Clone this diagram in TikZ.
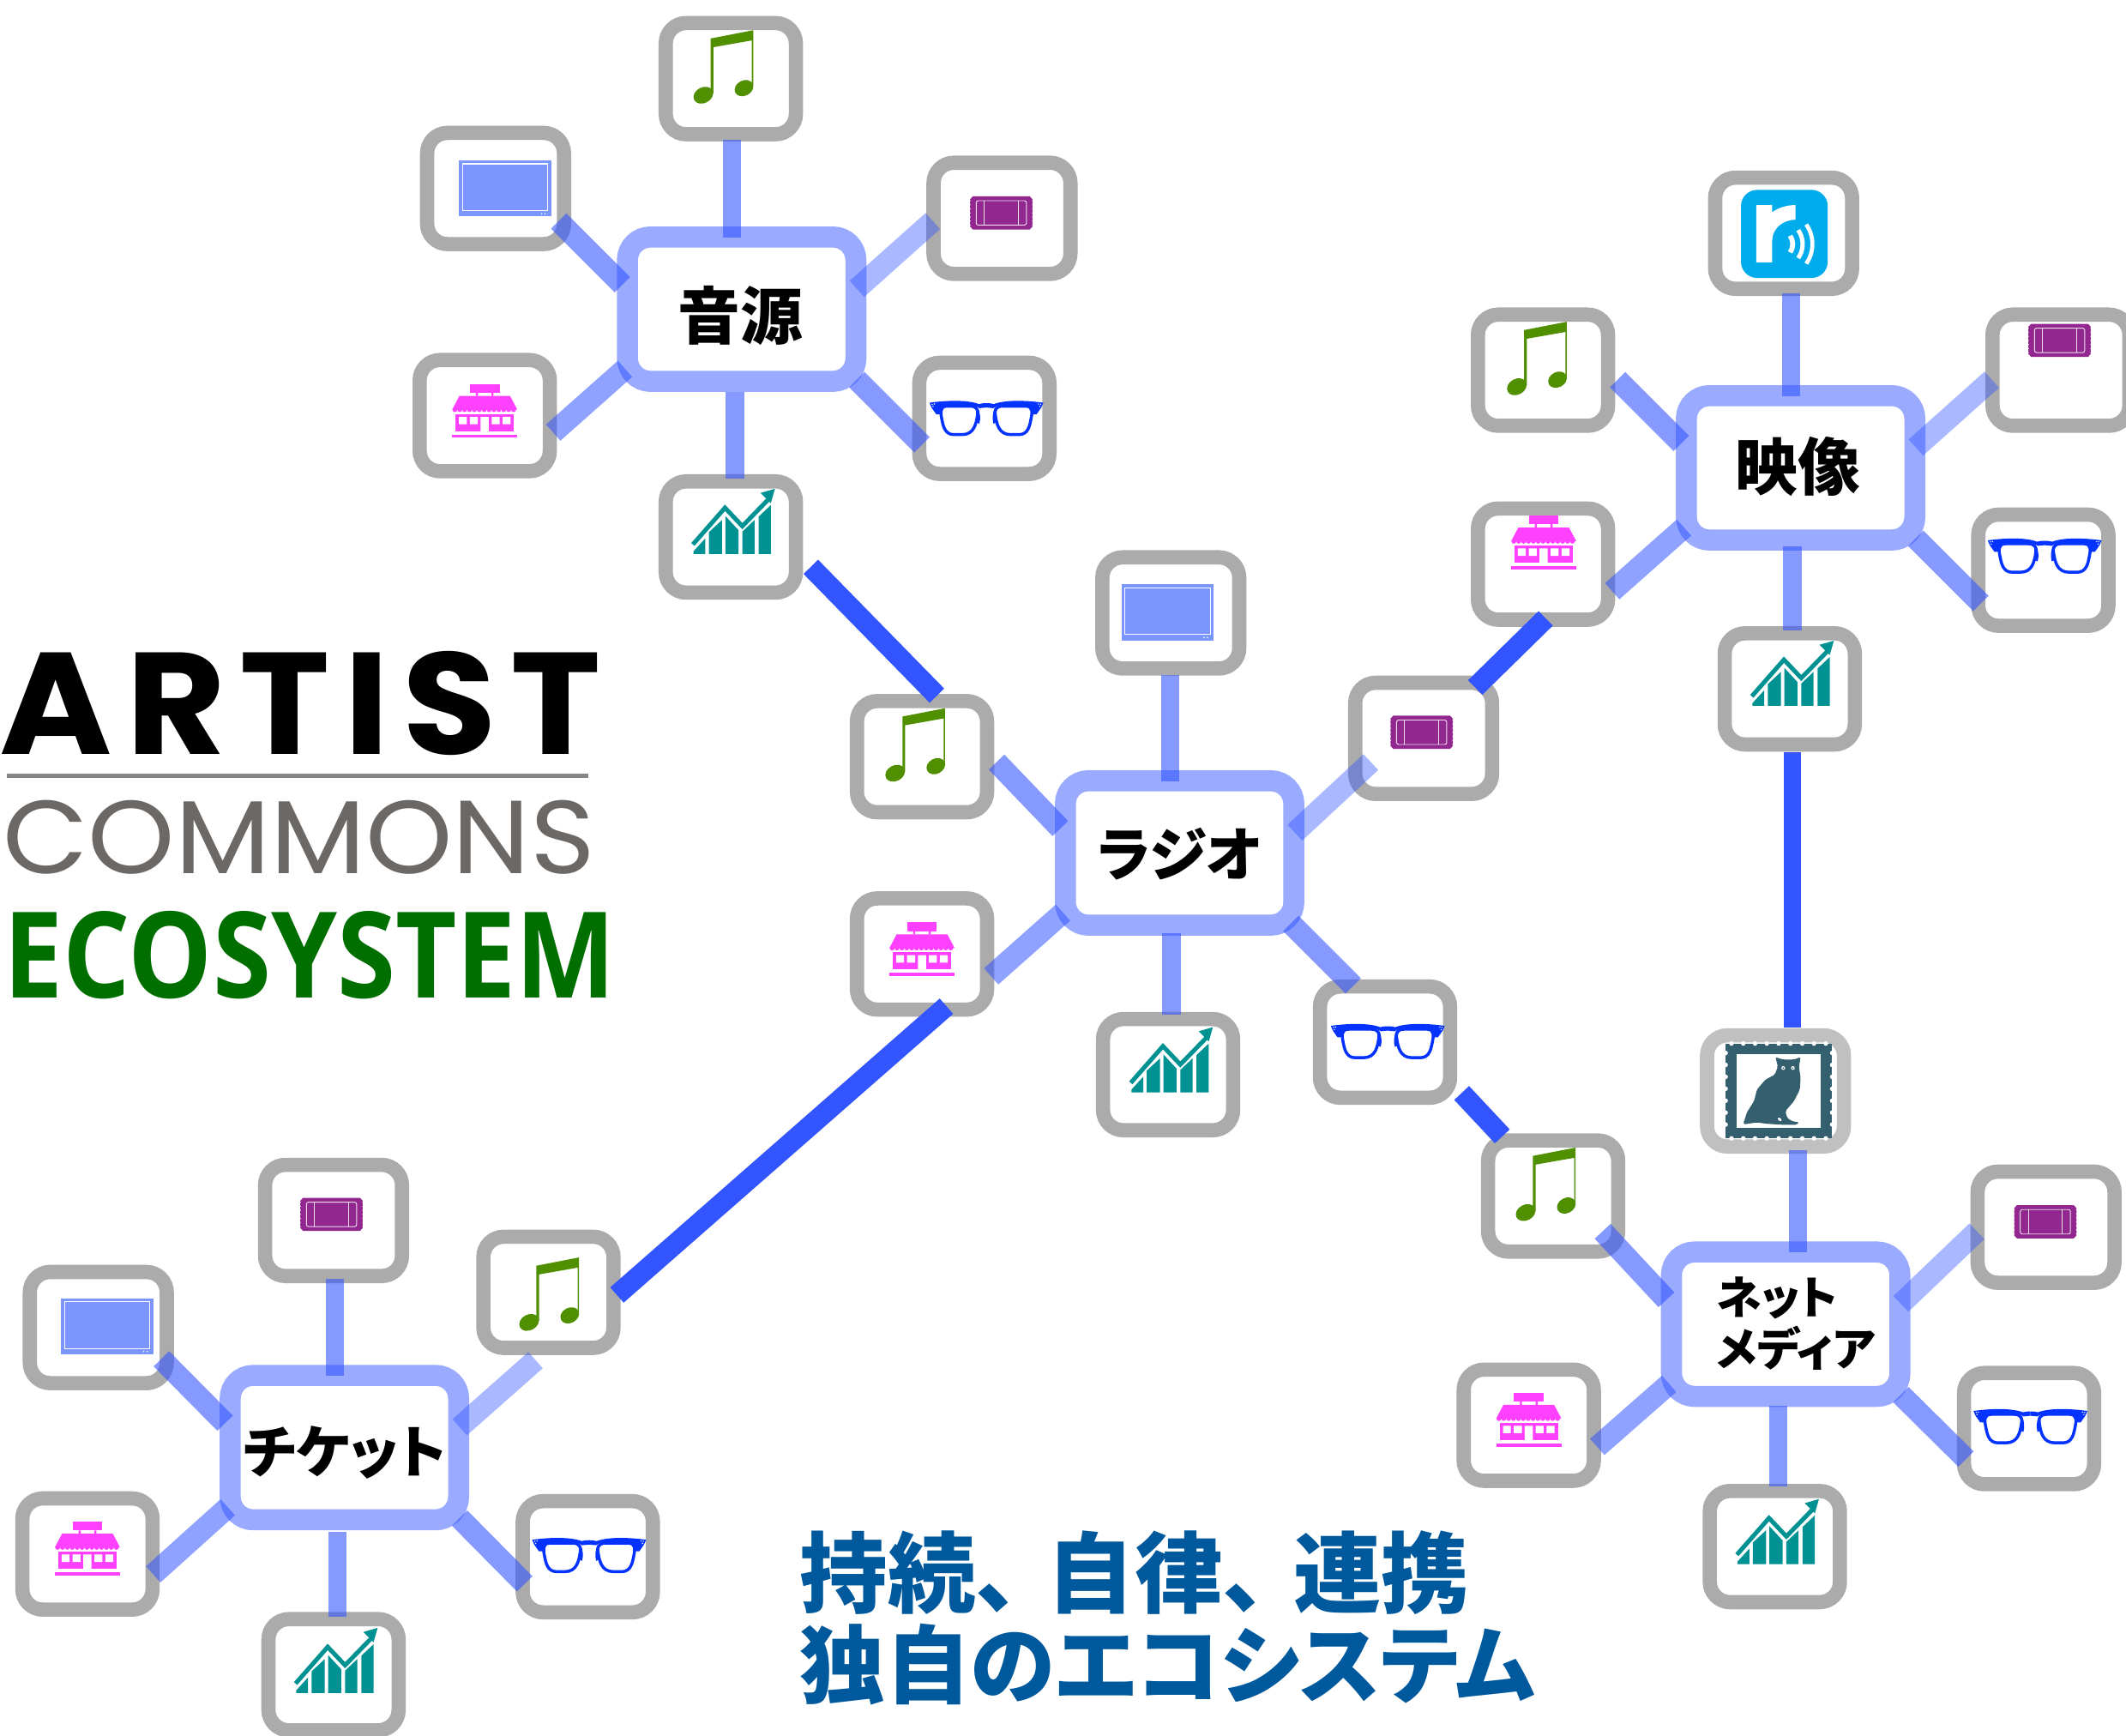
\documentclass[tikz,border=0pt]{standalone}
\usepackage{fontspec}
\usepackage{graphicx}
\usetikzlibrary{calc}
\newfontfamily\cjkheavy{Noto Sans CJK JP Black}
\newfontfamily\cjkpalt[RawFeature=+palt]{Noto Sans CJK JP Black}
\newfontfamily\popfont{Poppins}
\newfontfamily\popspaced[LetterSpace=9]{Poppins}
\newfontfamily\ecofont{Open Sans}
\definecolor{boxgray}{HTML}{ABABAB}
\definecolor{owlgray}{HTML}{C0C0C0}
\definecolor{linkblue}{HTML}{3355FF}
\definecolor{musicgreen}{HTML}{4F8F00}
\definecolor{tvblue}{HTML}{7B96FF}
\definecolor{ticketpurple}{HTML}{92278F}
\definecolor{storepink}{HTML}{FF40FF}
\definecolor{glassblue}{HTML}{0433FF}
\definecolor{chartteal}{HTML}{009193}
\definecolor{radikoblue}{HTML}{00ACEB}
\definecolor{owlslate}{HTML}{335F6E}
\definecolor{headblue}{HTML}{00599C}
\definecolor{ecogreen}{HTML}{006F00}
\definecolor{commonsgray}{HTML}{6B6866}
\tikzset{
  satn/.style={draw=boxgray,fill=white,line width=10.5pt,rounded corners=15pt,minimum width=96pt,minimum height=82pt,inner sep=0pt,outer sep=0pt},
  satw/.style={satn,minimum width=101pt},
  hub/.style={draw=linkblue!50,fill=white,line width=15.5pt,rounded corners=17pt,minimum width=168.5pt,minimum height=106.5pt,inner sep=0pt,outer sep=0pt},
  hubtext/.style={font=\cjkheavy\fontsize{46pt}{50pt}\selectfont,inner sep=0pt,outer sep=0pt},
  lnk/.style={draw=linkblue,draw opacity=.6,line width=16pt},
  lnkl/.style={draw=linkblue,draw opacity=.42,line width=16pt},
  lnks/.style={draw=linkblue,draw opacity=.55,line width=16pt},
  lnkv/.style={draw=linkblue,draw opacity=.6,line width=13.5pt},
  bridge/.style={draw=linkblue,line width=15pt},
  icomusic/.pic={
    \fill[musicgreen] (-9.4,-20.6)--(22,-26.7)--(22,14.5)--(21,14.5)--(21,-19.2)--(-7.4,-14.2)--(-7.4,20)--(-9.4,20)--cycle;
    \fill[musicgreen] (-14.8,21.2) ellipse[x radius=7.6pt,y radius=5.8pt,rotate=28];
    \fill[musicgreen] (15.2,16) ellipse[x radius=7.2pt,y radius=5.6pt,rotate=28];
  },
  icotv/.pic={
    \fill[tvblue] (-34,-20.7) rectangle (34,20.7);
    \draw[white,line width=.7pt] (-31.5,-18.2) rectangle (31.5,16.5);
    \fill[white] (27,18.6) circle (.55pt) (29.5,18.6) circle (.55pt);
  },
  icoticket/.pic={
    \fill[ticketpurple] (-21,-12.2)--(21,-12.2)--(23,-10)--(23,10)--(21,12.2)--(-21,12.2)--(-23,10)--(-23,-10)--cycle;
    \foreach \yy in {-9,-6,-3,0,3,6,9}{\fill[white] (-23.2,\yy) circle (.6pt) (23.2,\yy) circle (.6pt);}
    \draw[white,line width=.6pt,opacity=.85,rounded corners=1.5pt] (-18.5,-9) rectangle (18.5,9);
    \draw[white,line width=.6pt,opacity=.85] (-12.5,-9)--(-12.5,9) (12.5,-9)--(12.5,9);
  },
  icostore/.pic={
    \fill[storepink] (-11,-19.8) rectangle (11,-13.4);
    \fill[storepink] (-6.5,-13.4) rectangle (-5,-11) (5,-13.4) rectangle (6.5,-11);
    \fill[storepink] (-18.7,-11)--(18.7,-11)--(24,-.9)--(-24,-.9)--cycle;
    \foreach \xx in {-22,-18.4,...,22.1}{\fill[storepink] (\xx,-.9) circle (1.8pt);}
    \fill[storepink] (-21.5,2.2) rectangle (21.5,15);
    \fill[white] (-19,4.4) rectangle (-13.2,9.9) (-11,4.4) rectangle (-5.1,9.9) (5.1,4.4) rectangle (11,9.9) (13.2,4.4) rectangle (19,9.9) (-3,4.4) rectangle (3,15);
    \fill[storepink] (-24,17.4) rectangle (24,19.8);
  },
  icoglasses/.pic={
    \foreach \sx in {1,-1}{
      \begin{scope}[xscale=\sx]
      \draw[glassblue,line width=2.2pt] (-29,-9) -- (-12,-9) .. controls (-7,-9) and (-6,-6) .. (-6.5,-3) .. controls (-7.5,4) and (-9,12) .. (-18,12) -- (-24,12) .. controls (-31,12) and (-32,5) .. (-33,0) .. controls (-33.6,-3) and (-35,-9) .. (-29,-9) -- cycle;
      \fill[glassblue] (-42,-11.5) .. controls (-28,-13.5) and (-13,-13.5) .. (-5.5,-10.5)
        .. controls (-3,-11.2) and (-1,-11.2) .. (0,-11.2) -- (0,-8) -- (-5,-7.5) -- (-8,-9) -- (-29,-9) .. controls (-33,-9) and (-34.5,-6) .. (-34,-3) -- (-37,-3) -- (-40.5,-8) -- cycle;
      \fill[glassblue] (-6,-7.5) .. controls (-4.5,-3) and (-4.2,0) .. (-5.2,4) -- (-7.5,3) -- cycle;
      \fill[white] (-40,-10.4) circle (.5pt) (-38.4,-10.6) circle (.5pt) (-39.4,-8.8) circle (.5pt);
      \end{scope}
    }
  },
  icochart/.pic={
    \fill[chartteal] (-29,24)--(-20.3,24)--(-20.3,12.5)--(-29,22)--cycle;
    \fill[chartteal] (-17.7,24)--(-8,24)--(-8,-1)--(-17.7,8)--cycle;
    \fill[chartteal] (-5.5,24)--(4.2,24)--(4.2,6.5)--(-5.5,-4)--cycle;
    \fill[chartteal] (7,24)--(16,24)--(16,-1)--(7,7.5)--cycle;
    \fill[chartteal] (19,24)--(28,24)--(28,-12)--(19,-3.5)--cycle;
    \draw[chartteal,line width=3.2pt] (-29.5,17)--(-5.8,-10)--(7,3.5)--(26,-16);
    \fill[chartteal] (31,-24)--(20.5,-21)--(28,-13.5)--cycle;
  },
  icoradiko/.pic={
    \fill[radikoblue,rounded corners=12pt] (-32,-32.5) rectangle (32,32.5);
    \fill[white] (-20.7,-21.3)--(-9,-21.3)--(-9,-16) .. controls (-4,-19.5) and (2,-21.3) .. (8.3,-21.3)
      --(8.3,-10.5) .. controls (-1,-10.5) and (-9,-4) .. (-9,5)--(-9,21)--(-20.7,21)--cycle;
    \draw[white,line width=3.6pt] (4.27,13.64) arc[start angle=-35,end angle=35,radius=10.7pt];
    \draw[white,line width=3.2pt] (10.24,17.82) arc[start angle=-35,end angle=35,radius=18pt];
    \draw[white,line width=3pt] (16.14,21.95) arc[start angle=-35,end angle=35,radius=25.2pt];
  },
  icoowl/.pic={
    \fill[owlslate] (-39.3,-35) rectangle (39.3,35);
    \foreach \xx in {-35,-26.3,...,35.1}{\fill[white] (\xx,-35) circle (1.7pt) (\xx,35) circle (1.7pt);}
    \foreach \yy in {-28,-19.2,...,28.1}{\fill[white] (-39.3,\yy) circle (1.7pt) (39.3,\yy) circle (1.7pt);}
    \fill[white] (-31,-27) rectangle (31,27);
    \fill[owlslate,rounded corners=1.2pt] (-2.5,-24.9)--(2.7,-23.2)--(11.2,-23.2)--(16,-24.9)--(14.8,-17.9)--(16,-9.5)--(15.4,-1)--(11.2,7.4)--(4.8,14.8)--(5.9,19.6)--(9.1,22.1)--(14.8,23.2)--(13.3,24.9)--(1.7,24.9)--(-8.9,24.2)--(-16.2,23.2)--(-26.4,24.7)--(-23.6,15.8)--(-18.3,7.4)--(-16.2,-1)--(-9.9,-8.4)--(-3,-12)--(-.8,-17.9)--cycle;
    \fill[white] (3.2,-16.9) circle (1.4pt) (10.3,-16.9) circle (1.4pt);
    \fill[owlslate] (3.2,-16.9) circle (.6pt) (10.3,-16.9) circle (.6pt);
    \fill[white] (.6,21) ellipse[x radius=1.6pt,y radius=1pt,rotate=-40];
  }
}
\begin{document}
\begin{tikzpicture}[x=1pt,y=-1pt]
\useasboundingbox (0,0) rectangle (1568,1279.6);
% logo text
\node[anchor=north west,inner sep=0pt,outer sep=0pt] (logoA) at (0,480) {\resizebox{443pt}{76pt}{\popspaced\bfseries ARTIST}};
\coordinate (ruleL) at (5,572);
\coordinate (ruleR) at (434,572);
\draw[draw=black!48,line width=3.5pt] (ruleL) -- (ruleR);
\node[anchor=north west,inner sep=0pt,outer sep=0pt,text=commonsgray] (logoB) at (2,590) {\resizebox{437pt}{54pt}{\popfont COMMONS}};
\node[anchor=north west,inner sep=0pt,outer sep=0pt,text=ecogreen] (logoC) at (3,672) {\resizebox{451pt}{64pt}{\ecofont\bfseries ECOSYSTEM}};
\node[anchor=west,align=left,inner sep=0pt,outer sep=0pt,text=headblue,font=\cjkpalt\fontsize{64.8pt}{67pt}\selectfont] (headline) at (590,1193) {持続、\hspace{20pt}自律、\hspace{20pt}連携\\{\fontsize{63pt}{67pt}\selectfont 独自のエコシステム}};
% hubs
\node[hub] (c1) at (547,228) {};
\node[hub] (c2) at (1328,345) {};
\node[hub] (c3) at (870,629) {};
\node[hub] (c4) at (254,1067.5) {};
\node[hub] (c5) at (1317,976.5) {};
\node[hubtext] (t1) at (546,233) {音源};
\node[hubtext] (t2) at (1326,344) {映像};
\node[hubtext,font=\cjkpalt\fontsize{43pt}{47pt}\selectfont] (t3) at (870,630) {ラジオ};
\node[hubtext,font=\cjkpalt\fontsize{42pt}{46pt}\selectfont] (t4) at (254,1071) {チケット};
\node[hubtext,font=\cjkpalt\fontsize{33.5pt}{38pt}\selectfont,align=left] (t5) at (1324.5,976) {ネット\\メディア};
% cluster 1
\node[satn] (mu1) at (539,58) {};
\node[satw] (tv1) at (365.5,139) {};
\node[satw] (tk1) at (739,161) {};
\node[satn] (st1) at (357.5,306.5) {};
\node[satn] (gl1) at (726,308.5) {};
\node[satn] (ch1) at (539,396) {};
% cluster 2
\node[satw] (ra2) at (1315.5,172) {};
\node[satn] (mu2) at (1138,273) {};
\node[satw] (tk2) at (1520,273) {};
\node[satn] (st2) at (1138,416) {};
\node[satn] (gl2) at (1507,420.5) {};
\node[satn] (ch2) at (1320,508) {};
% cluster 3
\node[satw] (tv3) at (863.5,452) {};
\node[satn] (mu3) at (680,558) {};
\node[satw] (tk3) at (1050,544.5) {};
\node[satn] (st3) at (680,703.5) {};
\node[satn] (gl3) at (1021.5,768.5) {};
\node[satn] (ch3) at (861.5,792.5) {};
% cluster 4
\node[satw] (tk4) at (246,900) {};
\node[satw] (tv4) at (72.5,979) {};
\node[satn] (mu4) at (404.5,953) {};
\node[satn] (st4) at (64.5,1146) {};
\node[satn] (gl4) at (433.5,1148) {};
\node[satn] (ch4) at (246,1235) {};
% cluster 5
\node[satw,draw=owlgray] (ow5) at (1309.5,804.5) {};
\node[satn] (mu5) at (1145.5,882) {};
\node[satw] (tk5) at (1509,905) {};
\node[satn] (st5) at (1127.5,1051) {};
\node[satn] (gl5) at (1496.5,1053.5) {};
\node[satn] (ch5) at (1309,1140.5) {};
% icons
\foreach \px/\py in {533.5/49,1133.5/264,675/549,405/954,1140/873}{\pic at (\px,\py) {icomusic};}
\foreach \px/\py in {372.5/139,861/451.5,79/978}{\pic at (\px,\py) {icotv};}
\foreach \px/\py in {738.5/157,1519/251,1048.5/540,244.5/895.5,1508.5/901}{\pic at (\px,\py) {icoticket};}
\foreach \px/\py in {357.5/303,1138.5/400,680/700,64.5/1142,1127.5/1047}{\pic at (\px,\py) {icostore};}
\foreach \px/\py in {727.5/308.5,1508/410,1023.5/768,434.5/1147,1497.5/1052}{\pic at (\px,\py) {icoglasses};}
\foreach \px/\py in {540.5/384.5,1321.5/496.5,863.5/781.5,247.5/1224.5,1310.5/1129.5}{\pic at (\px,\py) {icochart};}
\pic at (1316,172.5) {icoradiko};
\pic at (1312,804.5) {icoowl};
% spokes cluster 1
\draw[lnk] ($(tv1)+(46.5,24)$) -- ($(c1)+(-88,-18)$);
\draw[lnkl] ($(tk1)+(-51,2)$) -- ($(c1)+(85,-15)$);
\draw[lnks] ($(st1)+(50.5,12.5)$) -- ($(c1)+(-86,44)$);
\draw[lnk] ($(gl1)+(-46,19.5)$) -- ($(c1)+(85,52)$);
\draw[lnkv] ($(mu1)+(1,45)$) -- ($(c1)+(-7,-53)$);
\draw[lnkv] ($(ch1)+(3,-43)$) -- ($(c1)+(-5,61)$);
% spokes cluster 2
\draw[lnk] ($(mu2)+(55,7)$) -- ($(c2)+(-88,-18)$);
\draw[lnkl] ($(tk2)+(-51,7)$) -- ($(c2)+(85,-15)$);
\draw[lnks] ($(st2)+(51,20)$) -- ($(c2)+(-86,44)$);
\draw[lnk] ($(gl2)+(-46,24.5)$) -- ($(c2)+(85,52)$);
\draw[lnkv] ($(ra2)+(5.5,44)$) -- ($(c2)+(-7,-53)$);
\draw[lnkv] ($(ch2)+(2,-43)$) -- ($(c2)+(-6,58)$);
% spokes cluster 3
\draw[lnk] ($(mu3)+(55,4)$) -- ($(c3)+(-88,-18)$);
\draw[lnkl] ($(tk3)+(-39,17.5)$) -- ($(c3)+(85,-15)$);
\draw[lnks] ($(st3)+(51,16.5)$) -- ($(c3)+(-86,44)$);
\draw[lnk] ($(gl3)+(-23.5,-41.5)$) -- ($(c3)+(82,52)$);
\draw[lnkv] ($(tv3)+(-.5,46)$) -- ($(c3)+(-7,-53)$);
\draw[lnkv] ($(ch3)+(2.5,-44.5)$) -- ($(c3)+(-6,59)$);
% spokes cluster 4
\draw[lnk] ($(tv4)+(46.5,23)$) -- ($(c4)+(-88,-18)$);
\draw[lnkl] ($(mu4)+(-9.5,50)$) -- ($(c4)+(85,-15)$);
\draw[lnks] ($(st4)+(48.5,15)$) -- ($(c4)+(-86,44)$);
\draw[lnk] ($(gl4)+(-46.5,20)$) -- ($(c4)+(85,52)$);
\draw[lnkv] ($(tk4)+(1,43)$) -- ($(c4)+(-7,-53)$);
\draw[lnkv] ($(ch4)+(3,-43)$) -- ($(c4)+(-5,62)$);
% spokes cluster 5
\draw[lnk] ($(mu5)+(36.5,26)$) -- ($(c5)+(-88,-18)$);
\draw[lnkl] ($(tk5)+(-51,3)$) -- ($(c5)+(85,-15)$);
\draw[lnks] ($(st5)+(50.5,16)$) -- ($(c5)+(-86,44)$);
\draw[lnk] ($(gl5)+(-46.5,22.5)$) -- ($(c5)+(85,52)$);
\draw[lnkv] ($(ow5)+(16.5,43.5)$) -- ($(c5)+(9,-53)$);
\draw[lnkv] ($(ch5)+(2.5,-44.5)$) -- ($(c5)+(-5.5,60)$);
% bridges
\draw[bridge] ($(ch1)+(59,22)$) -- ($(mu3)+(11,-45)$);
\draw[bridge] ($(st3)+(18,38.5)$) -- ($(mu4)+(50.5,2)$);
\draw[bridge] ($(tk3)+(38,-37.5)$) -- ($(st2)+(2,40)$);
\draw[bridge,line width=13pt] ($(ch2)+(2,47)$) -- ($(ow5)+(12.5,-46.5)$);
\draw[bridge] ($(gl3)+(56.5,37.5)$) -- ($(mu5)+(-37.5,-44)$);
\end{tikzpicture}
\end{document}
